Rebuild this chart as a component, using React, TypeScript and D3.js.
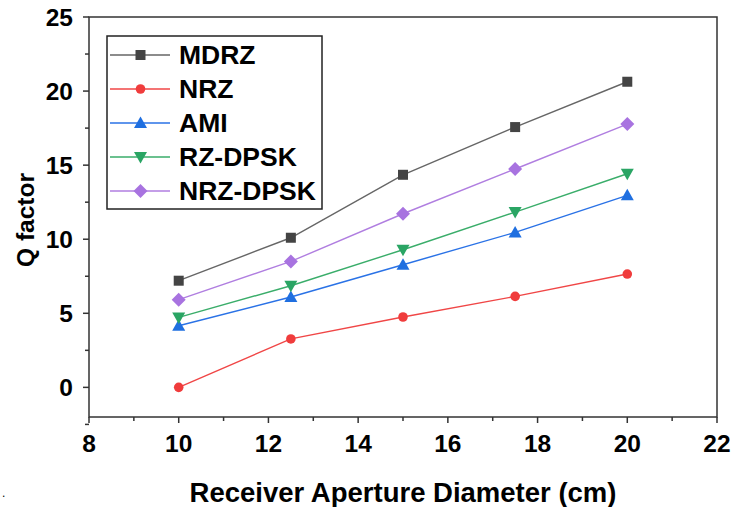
import React from "react";
import * as d3 from "d3";

const xValues = [10, 12.5, 15, 17.5, 20];
const seriesNames = ["MDRZ", "NRZ", "AMI", "RZ-DPSK", "NRZ-DPSK"];
const mdrz = [7.2, 10.1, 14.35, 17.57, 20.63];
const nrz = [0.0, 3.27, 4.75, 6.14, 7.65];
const ami = [4.16, 6.1, 8.28, 10.46, 12.96];
const rzdpsk = [4.72, 6.86, 9.29, 11.83, 14.42];
const nrzdpsk = [5.92, 8.5, 11.72, 14.74, 17.77];
const xTicks = [8, 10, 12, 14, 16, 18, 20, 22];
const yTicks = [0, 5, 10, 15, 20, 25];
const xMinor = [9, 11, 13, 15, 17, 19, 21];
const yMinor = [-2.5, 2.5, 7.5, 12.5, 17.5, 22.5];

const lineColors = ["#666666", "#f04646", "#2a72e6", "#3aad6a", "#b07ee0"];
const markColors = ["#444444", "#f03c3c", "#1f6fe0", "#2aa564", "#a873e0"];
const markers = ["square", "circle", "triangle", "triangleDown", "diamond"];

const W = 732, H = 507;
const left = 89, right = 717, top = 17, bottom = 417;
const FONT = "'Liberation Sans', Arial, sans-serif";

function Marker({ type, x, y, color }: { type: string; x: number; y: number; color: string }) {
  if (type === "square") return <rect x={x - 5} y={y - 5} width={10} height={10} fill={color} />;
  if (type === "circle") return <circle cx={x} cy={y} r={4.8} fill={color} />;
  if (type === "triangle")
    return <path d={`M${x},${y - 6.5}L${x + 6.5},${y + 5}L${x - 6.5},${y + 5}Z`} fill={color} />;
  if (type === "triangleDown")
    return <path d={`M${x},${y + 6.5}L${x + 6.5},${y - 5}L${x - 6.5},${y - 5}Z`} fill={color} />;
  return <path d={`M${x},${y - 7}L${x + 7},${y}L${x},${y + 7}L${x - 7},${y}Z`} fill={color} />;
}

export default function App() {
  const xs = d3.scaleLinear().domain([8, 22]).range([left, right]);
  const ys = d3.scaleLinear().domain([-2, 25]).range([bottom, top]);
  const data = [mdrz, nrz, ami, rzdpsk, nrzdpsk];
  const line = d3
    .line<number>()
    .x((_, i) => xs(xValues[i]))
    .y((d) => ys(d));

  const legX = 107, legY = 36, legW = 215, legH = 173;
  const rowY = (i: number) => 55 + i * 34;

  return (
    <svg width={W} height={H} style={{ position: "absolute", left: 0, top: 0, background: "#fff" }}>
      <rect x={0} y={0} width={W} height={H} fill="#fff" />
      <rect x={left} y={top} width={right - left} height={bottom - top} fill="none" stroke="#333" strokeWidth={1.5} />
      {xTicks.map((t) => (
        <g key={"xt" + t}>
          <line x1={xs(t)} x2={xs(t)} y1={bottom} y2={bottom + 6} stroke="#333" strokeWidth={1.5} />
          <text x={xs(t)} y={452} textAnchor="middle" fontFamily={FONT} fontWeight="bold" fontSize={24.5} fill="#000">
            {t}
          </text>
        </g>
      ))}
      {xMinor.map((t) => (
        <line key={"xm" + t} x1={xs(t)} x2={xs(t)} y1={bottom} y2={bottom + 4} stroke="#333" strokeWidth={1.5} />
      ))}
      {yTicks.map((t) => (
        <g key={"yt" + t}>
          <line x1={left - 6} x2={left} y1={ys(t)} y2={ys(t)} stroke="#333" strokeWidth={1.5} />
          <text x={73} y={ys(t) + 8.5} textAnchor="end" fontFamily={FONT} fontWeight="bold" fontSize={24.5} fill="#000">
            {t}
          </text>
        </g>
      ))}
      {yMinor.map((t) => (
        <line key={"ym" + t} x1={left - 4} x2={left} y1={ys(t)} y2={ys(t)} stroke="#333" strokeWidth={1.5} />
      ))}
      <text x={(left + right) / 2} y={502} textAnchor="middle" fontFamily={FONT} fontWeight="bold" fontSize={27.5} fill="#000">
        Receiver Aperture Diameter (cm)
      </text>
      <text
        transform={`translate(34,220) rotate(-90)`}
        textAnchor="middle"
        fontFamily={FONT}
        fontWeight="bold"
        fontSize={24.5}
        fill="#000"
      >
        Q factor
      </text>
      <text x={2} y={497} fontFamily={FONT} fontSize={12} fill="#000">.</text>
      {data.map((vals, si) => (
        <g key={"s" + si}>
          <path d={line(vals) || ""} fill="none" stroke={lineColors[si]} strokeWidth={1.4} />
          {vals.map((v, i) => (
            <Marker key={i} type={markers[si]} x={xs(xValues[i])} y={ys(v)} color={markColors[si]} />
          ))}
        </g>
      ))}
      <rect x={legX} y={legY} width={legW} height={legH} fill="#fff" stroke="#222" strokeWidth={1.5} />
      {seriesNames.map((name, i) => (
        <g key={"l" + i}>
          <line x1={110} x2={170} y1={rowY(i)} y2={rowY(i)} stroke={lineColors[i]} strokeWidth={1.4} />
          <Marker type={markers[i]} x={140.5} y={rowY(i)} color={markColors[i]} />
          <text x={179} y={rowY(i) + 9} fontFamily={FONT} fontWeight="bold" fontSize={26.5} fill="#000">
            {name}
          </text>
        </g>
      ))}
    </svg>
  );
}
